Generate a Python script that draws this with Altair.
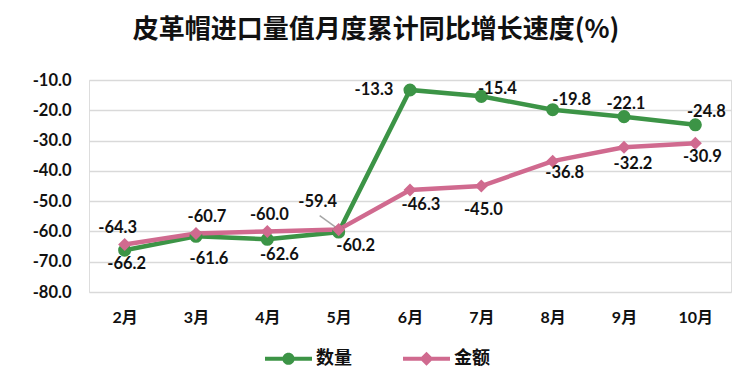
import altair as alt
import pandas as pd

months = ["2月", "3月", "4月", "5月", "6月", "7月", "8月", "9月", "10月"]
qty = [-66.2, -61.6, -62.6, -60.2, -13.3, -15.4, -19.8, -22.1, -24.8]
amt = [-64.3, -60.7, -60.0, -59.4, -46.3, -45.0, -36.8, -32.2, -30.9]
series = ["数量", "金额"]
y_ticks = [-80, -70, -60, -50, -40, -30, -20, -10]

rows = []
for m, q, a in zip(months, qty, amt):
    rows.append({"month": m, "series": series[0], "value": q})
    rows.append({"month": m, "series": series[1], "value": a})
df = pd.DataFrame(rows)

GREEN = "#3c9446"
PINK = "#d06a8f"
COLORS = [GREEN, PINK]
NUM_FONT = "Lato, Noto Sans CJK SC"
CJK_FONT = "Noto Sans CJK SC"

# label offsets (dx, dy) per series / month, like the hand-placed Excel labels
label_offsets = {
    "数量": [(2, 14), (13, 23), (12, 16), (17, 14), (-36, 0), (16, -7), (19, -10), (2, -13), (11, -13)],
    "金额": [(-7, -16), (11, -17), (2, -16), (-21, -28), (11, 15), (2, 24), (12, 12), (9, 17), (7, 14)],
}

x_enc = alt.X("month:N", sort=months,
              scale=alt.Scale(type="point", domain=months, padding=0.5),
              axis=alt.Axis(title=None, labelAngle=0, labelFont=NUM_FONT, labelFontSize=16,
                            labelFontWeight="bold", labelColor="#111111", labelPadding=17,
                            ticks=False, domain=False, grid=False))
y_enc = alt.Y("value:Q",
              scale=alt.Scale(domain=[-80, -10], nice=False, zero=False),
              axis=alt.Axis(title=None, values=y_ticks, format=".1f",
                            labelExpr="replace(datum.label, '\u2212', '-')",
                            labelFont=NUM_FONT,
                            labelFontSize=16.5, labelFontWeight="bold", labelColor="#111111",
                            labelPadding=18, ticks=False, domain=False, grid=True,
                            gridColor="#d9d9d9", gridWidth=1.5))

color_scale = alt.Scale(domain=series, range=COLORS)

base = alt.Chart(df)

lines = base.mark_line(strokeWidth=4.5).encode(
    x=x_enc, y=y_enc,
    color=alt.Color("series:N", scale=color_scale, legend=None),
)

points = base.mark_point(filled=True, opacity=1).encode(
    x=x_enc, y=y_enc,
    color=alt.Color("series:N", scale=color_scale, legend=None),
    shape=alt.Shape("series:N", scale=alt.Scale(domain=series, range=["circle", "diamond"]), legend=None),
    size=alt.Size("series:N", scale=alt.Scale(domain=series, range=[170, 170]), legend=None),
)

leader = base.transform_filter(
    (alt.datum.month == "5月") & (alt.datum.series == "金额")
).mark_rule(color="#a6a6a6", strokeWidth=1.5, xOffset=-19, yOffset=-14, x2Offset=-1, y2Offset=-1).encode(
    x=x_enc, y=y_enc, x2=alt.X2("month"), y2=alt.Y2("value"),
)

label_layers = []
for s in series:
    for m, (dx, dy) in zip(months, label_offsets[s]):
        label_layers.append(
            base.transform_filter((alt.datum.month == m) & (alt.datum.series == s))
            .transform_calculate(lbl="replace(format(datum.value, '.1f'), '\u2212', '-')")
            .mark_text(font=NUM_FONT, fontSize=16.5, fontWeight="bold", color="#111111",
                       align="center", baseline="middle", dx=dx, dy=dy)
            .encode(x=x_enc, y=y_enc, text=alt.Text("lbl:N"))
        )

circle_path = ("M-1,-0.085L-0.2,-0.085L-0.2,0.085L-1,0.085Z "
               "M0.2,-0.085L1,-0.085L1,0.085L0.2,0.085Z "
               "M0.26,0A0.26,0.26,0,1,1,-0.26,0A0.26,0.26,0,1,1,0.26,0Z")
diamond_path = ("M-1,-0.085L-0.2,-0.085L-0.2,0.085L-1,0.085Z "
                "M0.2,-0.085L1,-0.085L1,0.085L0.2,0.085Z "
                "M0,-0.3L0.3,0L0,0.3L-0.3,0Z")

leg = alt.Legend(title=None, orient="none", direction="horizontal",
                 legendX=176, legendY=255, symbolSize=2209,
                 symbolStrokeWidth=0, symbolOpacity=1,
                 labelFont=CJK_FONT, labelFontSize=18, labelFontWeight="bold",
                 labelColor="#111111", labelOffset=4, columnPadding=51, padding=0)

legend_layer = base.transform_calculate(legend="datum.series").mark_point(
    filled=True, opacity=0
).encode(
    x=x_enc, y=y_enc,
    color=alt.Color("legend:N", scale=alt.Scale(domain=series, range=COLORS), legend=leg),
    shape=alt.Shape("legend:N", scale=alt.Scale(domain=series, range=[circle_path, diamond_path]),
                    legend=leg),
)

chart = alt.layer(lines, leader, points, *label_layers, legend_layer).resolve_scale(
    shape="independent", color="independent"
).properties(
    width=642, height=212,
    autosize=alt.AutoSizeParams(type="none"),
    padding={"left": 89, "top": 80, "right": 19, "bottom": 86},
    title=alt.TitleParams("皮革帽进口量值月度累计同比增长速度(%)", font=CJK_FONT, fontSize=26,
                          fontWeight="bold", color="#111111", anchor="middle", dx=-34, offset=29),
).configure_view(stroke=None).configure(background="white")

chart.save("out.html", embed_options={"renderer": "svg", "actions": False})
